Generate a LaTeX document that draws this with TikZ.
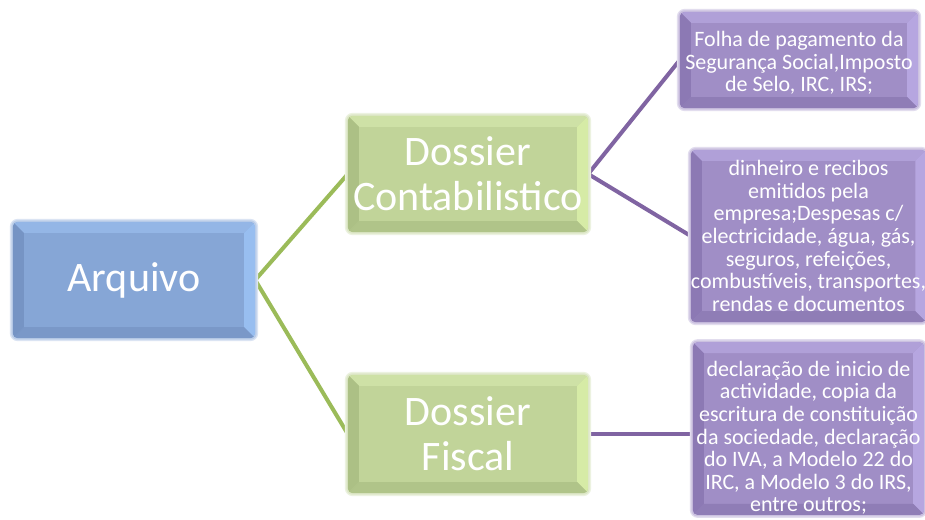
\documentclass[tikz,border=0pt]{standalone}
\usepackage{fontspec}
\setmainfont{Carlito}
\usetikzlibrary{calc,backgrounds}

\definecolor{bluface}{RGB}{134,166,214}
\definecolor{bluetop}{RGB}{148,182,230}
\definecolor{blueright}{RGB}{152,190,240}
\definecolor{blueleft}{RGB}{118,148,196}
\definecolor{bluebottom}{RGB}{122,152,200}

\definecolor{greenface}{RGB}{193,212,153}
\definecolor{greentop}{RGB}{206,225,166}
\definecolor{greenright}{RGB}{214,235,166}
\definecolor{greenleft}{RGB}{172,192,133}
\definecolor{greenbottom}{RGB}{176,196,137}

\definecolor{purpface}{RGB}{160,142,198}
\definecolor{purptop}{RGB}{176,160,216}
\definecolor{purpright}{RGB}{182,166,224}
\definecolor{purpleft}{RGB}{140,121,180}
\definecolor{purpbottom}{RGB}{143,125,182}

\definecolor{greenline}{RGB}{155,187,89}
\definecolor{purpline}{RGB}{128,100,162}

% face, bevel bands and soft halo of a box node
\newcommand\shadebox[6]{%
  \begin{scope}
    \fill[#2!30!white, rounded corners=8]
      ($(#1.north west)+(-3,-3)$) rectangle ($(#1.south east)+(3,3)$);
    \fill[#2!55!white, rounded corners=6]
      ($(#1.north west)+(-1.5,-1.5)$) rectangle ($(#1.south east)+(1.5,1.5)$);
    \path[clip, rounded corners=5] (#1.north west) rectangle (#1.south east);
    \fill[#2] (#1.north west) rectangle (#1.south east);
    \fill[#3] (#1.north west) -- (#1.north east) -- ($(#1.north east)+(-11,11)$) -- ($(#1.north west)+(11,11)$) -- cycle;
    \fill[#4] (#1.north east) -- (#1.south east) -- ($(#1.south east)+(-11,-11)$) -- ($(#1.north east)+(-11,11)$) -- cycle;
    \fill[#6] (#1.south east) -- (#1.south west) -- ($(#1.south west)+(11,-11)$) -- ($(#1.south east)+(-11,-11)$) -- cycle;
    \fill[#5] (#1.south west) -- (#1.north west) -- ($(#1.north west)+(11,11)$) -- ($(#1.south west)+(11,-11)$) -- cycle;
  \end{scope}}

\tikzset{
  boxnode/.style={rectangle, inner sep=0pt, align=center, text=white},
  bigtext/.style={boxnode, font=\fontsize{42}{45}\selectfont},
  smalltext/.style={boxnode, font=\fontsize{22}{22.6}\selectfont},
  greenlink/.style={draw=greenline, line width=4pt},
  purplink/.style={draw=purpline, line width=4pt},
}

\begin{document}
\begin{tikzpicture}[x=1pt, y=-1pt]
  \useasboundingbox (0,0) rectangle (925,519);

  \node[bigtext, minimum width=242, minimum height=116] (arq) at (134,280) {Arquivo};
  \node[bigtext, minimum width=240, minimum height=116] (dc) at (468,174) {Dossier\\Contabilistico};
  \node[bigtext, minimum width=240, minimum height=118] (df) at (468,434) {Dossier\\Fiscal};

  \node[smalltext, minimum width=238, minimum height=96] (p1) at (799,60)
    {\rule{0pt}{21pt}Folha de pagamento da\\Segurança Social,Imposto\\de Selo, IRC, IRS;};
  \node[smalltext, minimum width=231, minimum height=172] (p2) at (808.5,236)
    {dinheiro e recibos\\emitidos pela\\empresa;Despesas c/\\electricidade, água, gás,\\seguros, refeições,\\combustíveis, transportes,\\rendas e documentos};
  \node[smalltext, minimum width=231, minimum height=167] (p3) at (808.5,428.5)
    {\rule{0pt}{34pt}declaração de inicio de\\actividade, copia da\\escritura de constituição\\da sociedade, declaração\\do IVA, a Modelo 22 do\\IRC, a Modelo 3 do IRS,\\entre outros;};

  \begin{pgfonlayer}{background}
    \fill[white] (0,0) rectangle (925,519);
    % connectors
    \draw[greenlink] (dc.west) -- (arq.east) -- (df.west);
    \draw[purplink] (p1.west) -- (dc.east) -- (p2.west);
    \draw[purplink] (df.east) -- (df.east -| p3.west);
    % boxes
    \shadebox{arq}{bluface}{bluetop}{blueright}{blueleft}{bluebottom}
    \shadebox{dc}{greenface}{greentop}{greenright}{greenleft}{greenbottom}
    \shadebox{df}{greenface}{greentop}{greenright}{greenleft}{greenbottom}
    \shadebox{p1}{purpface}{purptop}{purpright}{purpleft}{purpbottom}
    \shadebox{p2}{purpface}{purptop}{purpright}{purpleft}{purpbottom}
    \shadebox{p3}{purpface}{purptop}{purpright}{purpleft}{purpbottom}
  \end{pgfonlayer}
\end{tikzpicture}
\end{document}
